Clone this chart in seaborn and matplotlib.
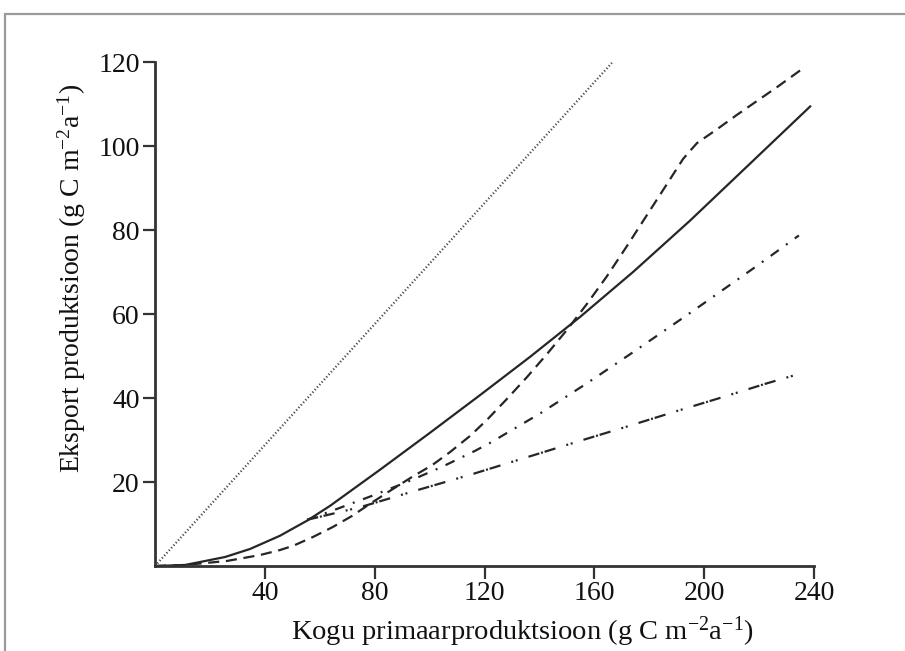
import matplotlib
matplotlib.use("Agg")
import matplotlib.pyplot as plt
import seaborn as sns
from matplotlib.patches import Rectangle

# ---- data ----
dotted_x = [0, 166.4]
dotted_y = [0, 119.8]

solid_x = [0, 10.9, 16.4, 25.5, 34.6, 45.5, 55.4, 63.7, 81.9, 100.1, 118.4, 136.6,
           154.8, 174.1, 194.8, 216.7, 238.9]
solid_y = [0, 0.24, 0.95, 2.14, 4.05, 7.2, 10.8, 14.3, 22.9, 31.7, 40.7, 49.8,
           59.3, 70.0, 82.2, 95.8, 109.6]

dashed_x = [0, 10.9, 18.2, 26.2, 38.2, 45.5, 50.3, 57.5, 64.8, 71.7, 78.3, 85.6, 93.6,
            100.9, 107.4, 114.7, 120.9, 128.2, 135.5, 142.8, 150.0, 157.3, 164.6,
            171.9, 179.2, 186.5, 192.3, 194.8, 197.4, 204.7, 211.9, 219.2, 226.5, 235.6]
dashed_y = [0, 0.24, 0.7, 1.2, 2.6, 3.8, 4.8, 6.9, 9.3, 11.9, 14.8, 17.9, 21.2,
            24.0, 27.1, 30.95, 34.8, 39.8, 45.0, 50.5, 56.2, 62.4, 69.0,
            76.2, 83.6, 91.0, 96.9, 98.8, 100.7, 104.0, 107.4, 110.7, 114.0, 118.3]

dashdot_x = [55.4, 65.5, 79.0, 91.8, 104.5, 116.5, 122.0, 140.2, 157.3, 174.1,
             190.1, 197.4, 219.3, 234.5]
dashdot_y = [11.0, 13.4, 16.7, 20.0, 23.6, 27.4, 29.3, 36.3, 43.5, 50.9,
             58.1, 61.4, 71.5, 78.7]

dashdotdot_x = [55.4, 74.7, 94.7, 105.2, 116.2, 134.0, 154.8, 171.9, 190.1,
                204.7, 222.9, 232.3]
dashdotdot_y = [11.0, 14.0, 17.9, 19.9, 22.0, 25.6, 29.8, 33.2, 36.9,
                39.8, 43.5, 45.3]

x_ticks = [40, 80, 120, 160, 200, 240]
y_ticks = [20, 40, 60, 80, 100, 120]
x_label = "Kogu primaarproduktsioon (g C m$^{-2}$a$^{-1}$)"
y_label = "Eksport produktsioon (g C m$^{-2}$a$^{-1}$)"

# ---- style ----
sns.set_theme(style="ticks")
plt.rcParams['font.family'] = ['Liberation Serif', 'DejaVu Serif']
plt.rcParams['mathtext.default'] = 'regular'

W, H = 905, 651
fig = plt.figure(figsize=(W / 100, H / 100), dpi=100)
fig.patch.set_facecolor("white")
ax = fig.add_axes([155 / W, (H - 566) / H, (814 - 155) / W, (566 - 62) / H])
ax.set_facecolor("white")

line_col = "#262626"
lw_main = 1.6

specs = [
    (dotted_x, dotted_y, (0, (0.55, 1.0)), 1.6, "#4a4a4a"),
    (solid_x, solid_y, "-", lw_main, line_col),
    (dashed_x, dashed_y, (0, (5.0, 3.0)), lw_main, line_col),
    (dashdot_x, dashdot_y, (0, (4.5, 4.0, 0.9, 4.0)), lw_main, line_col),
    (dashdotdot_x, dashdotdot_y,
     (0, (5.1, 0.8, 0.9, 0.8, 5.1, 5.1, 0.9, 1.2, 0.9, 5.1)), lw_main, line_col),
]
for xs, ys, ls, lw, c in specs:
    n_before = len(ax.lines)
    sns.lineplot(x=xs, y=ys, ax=ax, color=c, linewidth=lw, sort=False, estimator=None)
    ln = ax.lines[n_before]
    ln.set_linestyle(ls)
    ln.set_linewidth(lw)
    ln.set_clip_on(False)
    ln.set_solid_capstyle("butt")
    ln.set_dash_capstyle("butt")
    ln.set_solid_joinstyle("round")

ax.set_xlim(0, 240)
ax.set_ylim(0, 120)
ax.set_xticks(x_ticks)
ax.set_yticks(y_ticks)
ax.set_xticklabels([str(v) for v in x_ticks], fontsize=20)
ax.set_yticklabels([str(v) for v in y_ticks], fontsize=20)
ax.tick_params(axis="both", direction="out", length=9, width=1.6, colors="#333333",
               labelcolor="#111111", pad=2)
for s in ["top", "right"]:
    ax.spines[s].set_visible(False)
for s in ["left", "bottom"]:
    ax.spines[s].set_linewidth(2.0)
    ax.spines[s].set_color("#333333")

ax.set_xlabel(x_label, fontsize=20.5, color="#111111")
ax.set_ylabel(y_label, fontsize=20, color="#111111")
ax.xaxis.set_label_coords((522 - 155) / (814 - 155), -(632 - 566) / (566 - 62))
ax.yaxis.set_label_coords(-(155 - 72) / (814 - 155), (566 - 278) / (566 - 62))
ax.xaxis.label.set_va("center")
ax.yaxis.label.set_va("center")

# outer gray frame (cropped at right/bottom)
frame = Rectangle((5 / W, -0.2), 1.5, (H - 14) / H + 0.2, transform=fig.transFigure,
                  fill=False, edgecolor="#9a9a9a", linewidth=1.6, clip_on=False)
fig.patches.append(frame)

fig.savefig("out.png", dpi=100, facecolor="white")
